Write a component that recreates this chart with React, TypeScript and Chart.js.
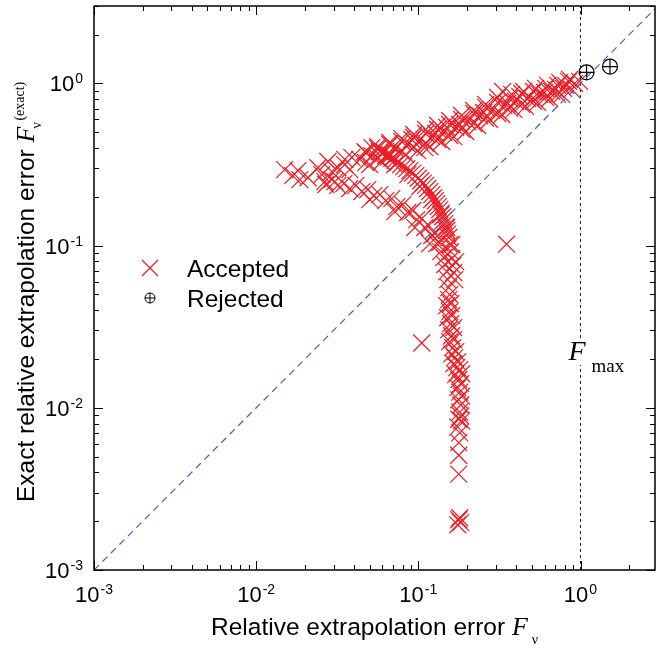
import React, { useEffect, useRef } from 'react';
import { Chart, registerables } from 'chart.js';

Chart.register(...registerables);

// ---------- data (x = relative extrapolation error F_v, y = exact error) ----------
const leftCluster: [number, number][] = [
  [0.0150, 0.294], [0.0168, 0.270], [0.0186, 0.255], [0.0181, 0.290], [0.0209, 0.262],
  [0.0240, 0.302], [0.0254, 0.274], [0.0277, 0.330], [0.0293, 0.286], [0.0319, 0.302],
  [0.0352, 0.340], [0.0378, 0.294], [0.0269, 0.238], [0.0306, 0.248],
];

const upperBranch: [number, number][] = [
  [0.0468, 0.380], [0.0562, 0.408], [0.0667, 0.432], [0.0791, 0.457], [0.0938, 0.484],
  [0.111, 0.520], [0.1317, 0.550], [0.156, 0.591], [0.185, 0.634], [0.2196, 0.681],
  [0.260, 0.742], [0.3085, 0.819], [0.331, 0.892], [0.376, 0.855], [0.446, 0.892],
  [0.529, 0.931], [0.627, 0.972], [0.744, 1.015], [0.857, 1.059],
  [0.0436, 0.340], [0.0517, 0.359], [0.0613, 0.380], [0.0726, 0.397], [0.0861, 0.420],
  [0.102, 0.445], [0.121, 0.470], [0.1435, 0.499], [0.170, 0.535], [0.2016, 0.582],
  [0.239, 0.634], [0.2835, 0.681], [0.336, 0.732], [0.398, 0.774], [0.472, 0.807],
  [0.560, 0.855], [0.664, 0.892], [0.787, 0.931], [0.920, 1.000], [0.988, 1.029],
  [0.0502, 0.316], [0.0595, 0.330], [0.0706, 0.350], [0.0837, 0.364], [0.0992, 0.385],
  [0.1176, 0.408], [0.1395, 0.438], [0.1654, 0.470], [0.196, 0.505], [0.2323, 0.550],
  [0.2755, 0.599], [0.3267, 0.643], [0.3875, 0.691], [0.459, 0.721], [0.544, 0.763],
  [0.645, 0.807], [0.765, 0.855], [0.882, 0.918],
  [0.0650, 0.364], [0.0911, 0.451], [0.128, 0.491], [0.180, 0.558], [0.253, 0.662],
  [0.3555, 0.752], [0.4217, 0.831], [0.500, 0.796], [0.601, 0.880], [0.703, 0.918],
  [0.810, 0.972], [0.0352, 0.316], [0.0389, 0.350], [0.0517, 0.402], [0.1096, 0.402],
  [0.1497, 0.535],
  [0.0474, 0.375], [0.0562, 0.397], [0.0667, 0.420], [0.0791, 0.438], [0.0938, 0.464],
  [0.111, 0.491], [0.1317, 0.520], [0.156, 0.558], [0.185, 0.599], [0.2196, 0.652],
  [0.260, 0.711], [0.3085, 0.763], [0.366, 0.807], [0.434, 0.867], [0.514, 0.892],
  [0.610, 0.931], [0.723, 0.972], [0.845, 1.029],
  [0.0474, 0.325], [0.0562, 0.345], [0.0667, 0.364], [0.0791, 0.380], [0.0938, 0.402],
  [0.111, 0.426], [0.1317, 0.451], [0.156, 0.477], [0.185, 0.520], [0.2196, 0.566],
  [0.260, 0.608], [0.3085, 0.652], [0.366, 0.701], [0.434, 0.742], [0.514, 0.774],
  [0.610, 0.819], [0.723, 0.855],
];

const outerArc: [number, number][] = [
  [0.0579, 0.380], [0.0630, 0.359], [0.0686, 0.345], [0.0747, 0.325], [0.0813, 0.307],
  [0.0886, 0.290], [0.0964, 0.270], [0.1035, 0.251], [0.111, 0.235], [0.1176, 0.2154],
  [0.1245, 0.1976], [0.130, 0.1815], [0.1355, 0.1668], [0.1414, 0.1506], [0.1455, 0.1366],
  [0.1497, 0.1239], [0.154, 0.1122], [0.1562, 0.1015], [0.1584, 0.0918], [0.1607, 0.0832],
  [0.163, 0.0753], [0.1654, 0.0682], [0.1677, 0.0617],
  [0.0716, 0.316], [0.0861, 0.274], [0.1021, 0.2313], [0.121, 0.192], [0.1375, 0.155],
  [0.1497, 0.1292], [0.1607, 0.1015], [0.170, 0.0797],
  [0.0604, 0.369], [0.0657, 0.352], [0.0716, 0.335], [0.0779, 0.316], [0.0849, 0.298],
  [0.0924, 0.280], [0.0999, 0.260], [0.1072, 0.243], [0.1143, 0.225], [0.121, 0.206],
  [0.1272, 0.189], [0.1327, 0.174], [0.1384, 0.1585], [0.1434, 0.1434], [0.1476, 0.130],
  [0.1518, 0.118],
];

const innerArc: [number, number][] = [
  [0.0265, 0.248], [0.0293, 0.255], [0.0319, 0.235], [0.0347, 0.241], [0.0378, 0.2247],
  [0.0412, 0.235], [0.0449, 0.2154], [0.0488, 0.2216], [0.0532, 0.2032], [0.0579, 0.206],
  [0.063, 0.1893], [0.0686, 0.1947], [0.0737, 0.174], [0.0802, 0.179], [0.0861, 0.160],
  [0.0924, 0.1645], [0.0978, 0.1446], [0.105, 0.1466], [0.1096, 0.1292], [0.116, 0.1328],
  [0.121, 0.1154], [0.1263, 0.1187], [0.130, 0.1029], [0.1355, 0.1044], [0.1375, 0.0918],
  [0.1435, 0.0844], [0.1455, 0.0764], [0.1497, 0.0691], [0.1518, 0.0617], [0.154, 0.0551],
  [0.1562, 0.0499],
  [0.0502, 0.192], [0.0716, 0.162], [0.0951, 0.1292], [0.1176, 0.1029],
];

const column: [number, number][] = [
  [0.154, 0.0464], [0.1497, 0.0426], [0.1584, 0.0438], [0.1562, 0.0392], [0.1518, 0.0359],
  [0.1607, 0.037], [0.1584, 0.033], [0.154, 0.0303], [0.1654, 0.0312], [0.1607, 0.0278],
  [0.1562, 0.0256], [0.1654, 0.0263], [0.163, 0.0235], [0.170, 0.0222], [0.1607, 0.0215],
  [0.1677, 0.0204], [0.175, 0.0192], [0.1654, 0.0187], [0.1726, 0.0177], [0.180, 0.0172],
  [0.185, 0.0162], [0.170, 0.0160], [0.1775, 0.0149], [0.1826, 0.0141], [0.175, 0.0133],
  [0.180, 0.0125], [0.185, 0.0118], [0.1775, 0.0112], [0.1826, 0.0104], [0.180, 0.0094],
  [0.1826, 0.0089], [0.1775, 0.0085], [0.185, 0.0083], [0.175, 0.0076], [0.180, 0.0070],
  [0.1775, 0.0061], [0.1775, 0.0051], [0.1775, 0.0039], [0.1775, 0.00204], [0.1826, 0.00196],
  [0.175, 0.0019], [0.180, 0.0021],
];

const outliers: [number, number][] = [[0.105, 0.0251], [0.350, 0.102]];

const rejected: [number, number][] = [[1.09, 1.17], [1.52, 1.27]];

const diagonal: [number, number][] = [[0.001, 0.001], [3, 3]];
const fMax = 1.0;
const fMaxLineLower: [number, number] = [0.001, 0.0184];
const fMaxLineUpper: [number, number] = [0.0269, 3];

const xRange = [0.001, 2.88];
const yRange = [0.001, 3.0];
const decadeValues = [0.001, 0.01, 0.1, 1];
const decadeExps = ['-3', '-2', '-1', '0'];

const legendLabels = ['Accepted', 'Rejected'];

const SANS = '"Liberation Sans", Arial, Helvetica, sans-serif';
const SERIF = '"Liberation Serif", "Times New Roman", serif';
const RED = '#ee1c24';
const BLUE = '#3d5fbf';

const toPts = (a: [number, number][]) => a.map(([x, y]) => ({ x, y }));

function drawPow(ctx: CanvasRenderingContext2D, exp: string, x: number, y: number, align: 'center' | 'right') {
  ctx.font = `22px ${SANS}`;
  const w1 = ctx.measureText('10').width;
  ctx.font = `14px ${SANS}`;
  const w2 = ctx.measureText(exp).width;
  const total = w1 + w2 + 1;
  const x0 = align === 'center' ? x - total / 2 : x - total;
  ctx.textAlign = 'left';
  ctx.textBaseline = 'alphabetic';
  ctx.font = `22px ${SANS}`;
  ctx.fillText('10', x0, y);
  ctx.font = `14px ${SANS}`;
  ctx.fillText(exp, x0 + w1 + 1, y - 8);
}

const framePlugin = {
  id: 'idlFrame',
  afterDraw(chart: any) {
    const { ctx, chartArea: a, scales } = chart;
    const xs = scales.x;
    const ys = scales.y;
    ctx.save();
    ctx.strokeStyle = '#000';
    ctx.fillStyle = '#000';
    // frame
    ctx.lineWidth = 1.5;
    ctx.strokeRect(a.left, a.top, a.right - a.left, a.bottom - a.top);
    // ticks
    ctx.lineWidth = 1;
    ctx.beginPath();
    for (const d of decadeValues) {
      for (let m = 1; m <= 9; m++) {
        const v = m * d;
        if (v <= xs.max + 1e-9) {
          const px = Math.round(xs.getPixelForValue(v)) + 0.5;
          const len = m === 1 ? 9 : 5;
          ctx.moveTo(px, a.bottom); ctx.lineTo(px, a.bottom - len);
          ctx.moveTo(px, a.top); ctx.lineTo(px, a.top + len);
        }
        if (v <= ys.max + 1e-9) {
          const py = Math.round(ys.getPixelForValue(v)) + 0.5;
          const len = m === 1 ? 9 : 5;
          ctx.moveTo(a.left, py); ctx.lineTo(a.left + len, py);
          ctx.moveTo(a.right, py); ctx.lineTo(a.right - len, py);
        }
      }
    }
    ctx.stroke();
    // tick labels
    decadeValues.forEach((v, i) => {
      drawPow(ctx, decadeExps[i], xs.getPixelForValue(v), a.bottom + 32, 'center');
      drawPow(ctx, decadeExps[i], a.left - 11, ys.getPixelForValue(v) + 8, 'right');
    });

    // x title
    ctx.textAlign = 'left';
    ctx.textBaseline = 'alphabetic';
    ctx.font = `24.5px ${SANS}`;
    const xt = 'Relative extrapolation error ';
    const xtx = 211;
    const xty = a.bottom + 65;
    ctx.fillText(xt, xtx, xty);
    let cx = xtx + ctx.measureText(xt).width;
    ctx.font = `italic 26px ${SERIF}`;
    ctx.fillText('F', cx, xty);
    cx += ctx.measureText('F').width + 4;
    ctx.font = `14px ${SERIF}`;
    ctx.fillText('\u03bd', cx, xty + 9);

    // y title (rotated)
    ctx.save();
    ctx.translate(34, 502);
    ctx.rotate(-Math.PI / 2);
    ctx.font = `24.5px ${SANS}`;
    const yt = 'Exact relative extrapolation error ';
    ctx.fillText(yt, 0, 0);
    let cy = ctx.measureText(yt).width;
    ctx.font = `italic 26px ${SERIF}`;
    ctx.fillText('F', cy, 0);
    cy += ctx.measureText('F').width;
    ctx.font = `14px ${SERIF}`;
    ctx.fillText('\u03bd', cy - 2, 7);
    cy += 6;
    ctx.fillText('(exact)', cy, -10);
    ctx.restore();

    // F_max label
    const fx = xs.getPixelForValue(fMax);
    ctx.font = `italic 28px ${SERIF}`;
    ctx.fillText('F', fx - 12, 360);
    ctx.font = `19px ${SERIF}`;
    ctx.fillText('max', fx + 11, 372);

    // legend
    const lx = 150;
    const ly1 = 268;
    const ly2 = 298;
    ctx.strokeStyle = RED;
    ctx.lineWidth = 1.2;
    ctx.beginPath();
    ctx.moveTo(lx - 8, ly1 - 8); ctx.lineTo(lx + 8, ly1 + 8);
    ctx.moveTo(lx - 8, ly1 + 8); ctx.lineTo(lx + 8, ly1 - 8);
    ctx.stroke();
    ctx.strokeStyle = '#000';
    ctx.lineWidth = 1;
    ctx.beginPath();
    ctx.arc(lx, ly2, 5, 0, Math.PI * 2);
    ctx.moveTo(lx - 5, ly2); ctx.lineTo(lx + 5, ly2);
    ctx.moveTo(lx, ly2 - 5); ctx.lineTo(lx, ly2 + 5);
    ctx.stroke();
    ctx.fillStyle = '#000';
    ctx.font = `24.5px ${SANS}`;
    ctx.fillText(legendLabels[0], 187, ly1 + 9);
    ctx.fillText(legendLabels[1], 187, ly2 + 9);

    ctx.restore();
  },
};

export default function App() {
  const ref = useRef<HTMLCanvasElement>(null);
  useEffect(() => {
    document.body.style.margin = '0';
    const canvas = ref.current!;
    const accepted = [...leftCluster, ...upperBranch, ...outerArc, ...innerArc, ...column, ...outliers];
    const chart = new Chart(canvas, {
      type: 'scatter',
      data: {
        datasets: [
          {
            label: 'diagonal',
            data: toPts(diagonal),
            showLine: true,
            borderColor: BLUE,
            borderWidth: 1.2,
            borderDash: [7, 5],
            pointRadius: 0,
            order: 0,
          } as any,
          {
            label: 'Rejected',
            data: toPts(rejected),
            pointStyle: 'circle',
            pointRadius: 7.5,
            borderColor: '#000',
            backgroundColor: 'rgba(0,0,0,0)',
            borderWidth: 1.2,
            order: 1,
          },
          {
            label: 'Rejected cross',
            data: toPts(rejected),
            pointStyle: 'cross',
            pointRadius: 7.5,
            borderColor: '#000',
            borderWidth: 1.2,
            order: 1,
          },
          {
            label: 'Accepted',
            data: toPts(accepted),
            pointStyle: 'crossRot',
            pointRadius: 12,
            borderColor: RED,
            backgroundColor: RED,
            borderWidth: 1.2,
            order: 2,
          },
          {
            label: 'Fmax',
            data: [
              { x: fMax, y: fMaxLineLower[0] },
              { x: fMax, y: fMaxLineLower[1] },
              { x: fMax, y: null },
              { x: fMax, y: fMaxLineUpper[0] },
              { x: fMax, y: fMaxLineUpper[1] },
            ],
            showLine: true,
            spanGaps: false,
            borderColor: '#222',
            borderWidth: 1,
            borderDash: [3, 3],
            pointRadius: 0,
            order: 3,
          } as any,
        ],
      },
      options: {
        responsive: false,
        animation: false,
        devicePixelRatio: 1,
        events: [],
        layout: { autoPadding: false, padding: { left: 94, right: 1, top: 6, bottom: 79 } },
        plugins: { legend: { display: false }, tooltip: { enabled: false } },
        scales: {
          x: { type: 'logarithmic', min: xRange[0], max: xRange[1], display: false },
          y: { type: 'logarithmic', min: yRange[0], max: yRange[1], display: false },
        },
      } as any,
      plugins: [framePlugin],
    });
    return () => chart.destroy();
  }, []);
  return <canvas ref={ref} width={656} height={649} style={{ display: 'block', width: 656, height: 649 }} />;
}
